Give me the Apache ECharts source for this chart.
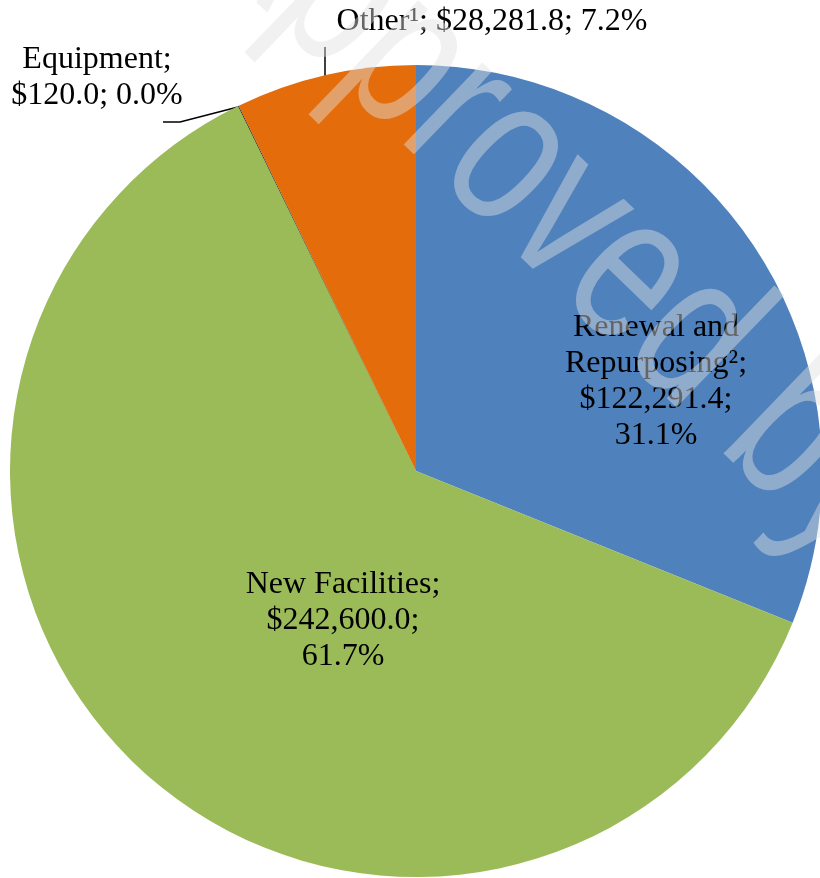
<!DOCTYPE html>
<html>
<head>
<meta charset="utf-8">
<script src="https://cdn.jsdelivr.net/npm/echarts@6/dist/echarts.min.js"></script>
<style>
html,body{margin:0;padding:0;background:#fff;}
#chart{width:820px;height:878px;}
</style>
</head>
<body>
<div id="chart"></div>
<script>
const categories = ['Renewal and Repurposing²', 'New Facilities', 'Equipment', 'Other¹'];
const values = [122291.4, 242600.0, 120.0, 28281.8];
const percents = ['31.1%', '61.7%', '0.0%', '7.2%'];
const amounts = ['$122,291.4', '$242,600.0', '$120.0', '$28,281.8'];
const colors = ['#4F81BD', '#9BBB59', '#000000', '#E46C0A'];

const CX = 416, CY = 471, R = 406;
const FONT = '"Liberation Serif", "Times New Roman", serif';

const labelTexts = [
  'Renewal and\nRepurposing²;\n' + amounts[0] + ';\n' + percents[0],
  'New Facilities;\n' + amounts[1] + ';\n' + percents[1],
  'Equipment;\n' + amounts[2] + '; ' + percents[2],
  'Other¹; ' + amounts[3] + '; ' + percents[3]
];

const labelPos = [
  {x: 656, y: 382},
  {x: 343, y: 621},
  {x: 97, y: 78},
  {x: 492, y: 22}
];

const chart = echarts.init(document.getElementById('chart'));
chart.setOption({
  animation: false,
  backgroundColor: '#fff',
  series: [{
    type: 'pie',
    center: [CX, CY],
    radius: [0, R],
    startAngle: 90,
    clockwise: true,
    minAngle: 0,
    avoidLabelOverlap: false,
    data: categories.map((c, i) => ({
      name: c,
      value: values[i],
      itemStyle: {color: colors[i]},
      label: {
        position: (i >= 2) ? 'outside' : 'inside'
      },
      labelLine: {show: i >= 2}
    })),
    label: {
      show: true,
      formatter: p => labelTexts[p.dataIndex],
      fontFamily: FONT,
      fontSize: 32,
      lineHeight: 36,
      color: '#000',
      align: 'center'
    },
    labelLine: {
      lineStyle: {color: '#000', width: 1.5}
    },
    labelLayout: function (params) {
      const i = params.dataIndex;
      const res = {x: labelPos[i].x, y: labelPos[i].y, align: 'center', verticalAlign: 'middle'};
      if (i === 2) {
        res.labelLinePoints = [[238, 107], [180, 122], [163, 122]];
      } else if (i === 3) {
        res.labelLinePoints = [[325, 76], [325, 60], [325, 47]];
      }
      return res;
    },
    emphasis: {disabled: true}
  }],
  graphic: [{
    type: 'text',
    x: 232,
    y: -104,
    rotation: -0.768,
    scaleX: 0.745,
    scaleY: 1,
    z: 100,
    silent: true,
    style: {
      text: 'Approved by',
      font: '215px "Liberation Sans", Arial, sans-serif',
      fill: 'rgba(225,225,225,0.45)',
      textVerticalAlign: 'middle'
    }
  }]
});
</script>
</body>
</html>
